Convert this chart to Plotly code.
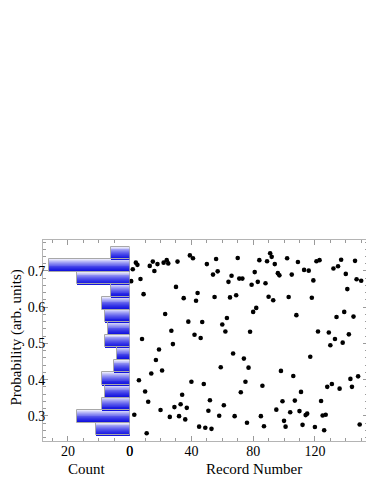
import plotly.graph_objects as go

# ---------------- data ----------------
record_number = list(range(1, 151))
probability = [
    0.672, 0.705, 0.303, 0.723, 0.717, 0.398, 0.678, 0.512, 0.636, 0.367,
    0.252, 0.339, 0.714, 0.417, 0.726, 0.700, 0.454, 0.719, 0.483, 0.316,
    0.425, 0.723, 0.581, 0.730, 0.721, 0.297, 0.535, 0.498, 0.324, 0.656,
    0.726, 0.299, 0.332, 0.358, 0.625, 0.290, 0.322, 0.560, 0.743, 0.394,
    0.735, 0.524, 0.618, 0.639, 0.270, 0.515, 0.559, 0.388, 0.267, 0.719,
    0.314, 0.343, 0.264, 0.690, 0.628, 0.733, 0.699, 0.300, 0.434, 0.552,
    0.329, 0.533, 0.570, 0.670, 0.627, 0.687, 0.472, 0.299, 0.633, 0.736,
    0.679, 0.365, 0.679, 0.458, 0.394, 0.281, 0.433, 0.532, 0.662, 0.587,
    0.697, 0.598, 0.670, 0.730, 0.299, 0.383, 0.271, 0.666, 0.727, 0.629,
    0.749, 0.739, 0.619, 0.719, 0.317, 0.694, 0.688, 0.424, 0.340, 0.286,
    0.270, 0.735, 0.628, 0.310, 0.690, 0.410, 0.342, 0.578, 0.725, 0.313,
    0.366, 0.275, 0.703, 0.302, 0.306, 0.701, 0.463, 0.626, 0.674, 0.269,
    0.727, 0.533, 0.730, 0.341, 0.301, 0.260, 0.303, 0.380, 0.530, 0.495,
    0.388, 0.707, 0.512, 0.573, 0.713, 0.375, 0.731, 0.502, 0.587, 0.692,
    0.650, 0.525, 0.402, 0.380, 0.574, 0.728, 0.677, 0.409, 0.276, 0.673,
]

# histogram (bins from bottom to top)
bin_start = 0.2461
bin_width = 0.03473
hist_counts = [11, 17, 9, 8, 9, 5, 4, 8, 7, 8, 9, 6, 17, 26, 6]
bin_centers = [bin_start + (i + 0.5) * bin_width for i in range(len(hist_counts))]

count_ticks = [0, 20]
record_ticks = [0, 40, 80, 120]
prob_ticks = [0.3, 0.4, 0.5, 0.6, 0.7]

# ---------------- style ----------------
FONT = "Liberation Serif"
LINE = "#b4b4b4"
TICK = "#9a9a9a"

fig = go.Figure()

# gradient bars built from stacked layers
N = 14
for k in range(N):
    t = k / (N - 1)
    rg = int(20 + 210 * (1 - t) ** 1.5)
    b = int(252 - 30 * t)
    frac = (N - k) / N
    fig.add_trace(go.Bar(
        x=hist_counts, y=bin_centers, orientation="h",
        width=[bin_width * frac] * len(hist_counts),
        offset=-bin_width / 2,
        marker=dict(color=f"rgb({rg},{rg},{b})", line=dict(width=0)),
        xaxis="x", yaxis="y", showlegend=False, hoverinfo="skip",
    ))
# outline
fig.add_trace(go.Bar(
    x=hist_counts, y=bin_centers, orientation="h",
    width=[bin_width] * len(hist_counts), offset=-bin_width / 2,
    marker=dict(color="rgba(0,0,0,0)", line=dict(color="#a8a8a8", width=1)),
    xaxis="x", yaxis="y", showlegend=False,
))

fig.add_trace(go.Scatter(
    x=record_number, y=probability, mode="markers",
    marker=dict(color="black", size=4.6),
    xaxis="x2", yaxis="y2", showlegend=False,
))

yr = [0.2304, 0.7856]
common = dict(showgrid=False, zeroline=False, showline=True, linecolor=LINE,
              linewidth=1, ticks="inside", tickcolor=TICK, ticklen=5,
              automargin=False,
              tickfont=dict(family=FONT, size=14, color="black"))
minor = dict(ticks="inside", ticklen=3, tickcolor=TICK, showgrid=False)

fig.update_layout(
    width=366, height=476,
    margin=dict(l=35, r=6, t=232, b=43),
    paper_bgcolor="white", plot_bgcolor="white",
    barmode="overlay", bargap=0,
    xaxis=dict(domain=[0, 0.2667], range=[28.1, 0], tickvals=count_ticks,
               anchor="y", mirror="ticks", ticklabelstandoff=-3,
               minor=dict(dtick=5, **minor), **common),
    xaxis2=dict(domain=[0.2667, 1], range=[0, 154.4], tickvals=record_ticks,
                anchor="y", mirror="ticks", ticklabelstandoff=-3,
                minor=dict(dtick=10, **minor), **common),
    yaxis=dict(range=yr, tickvals=prob_ticks, anchor="x", ticklabelstandoff=-6,
               minor=dict(dtick=0.02, tick0=0.3, **minor), **common),
    yaxis2=dict(range=yr, overlaying="y", anchor="x2", side="right",
                showticklabels=False, tickvals=prob_ticks,
                minor=dict(dtick=0.02, tick0=0.3, **minor), **common),
    annotations=[
        dict(text="Probability (arb. units)", xref="paper", yref="paper",
             x=-0.083, y=0.515, textangle=-90, showarrow=False,
             xanchor="center", yanchor="middle",
             font=dict(family=FONT, size=15, color="black")),
        dict(text="Count", xref="paper", yref="paper", x=0.136, y=-0.139,
             showarrow=False, xanchor="center", yanchor="middle",
             font=dict(family=FONT, size=15, color="black")),
        dict(text="Record Number", xref="paper", yref="paper", x=0.648, y=-0.139,
             showarrow=False, xanchor="center", yanchor="middle",
             font=dict(family=FONT, size=15, color="black")),
    ],
)

fig.write_html("out.html")
